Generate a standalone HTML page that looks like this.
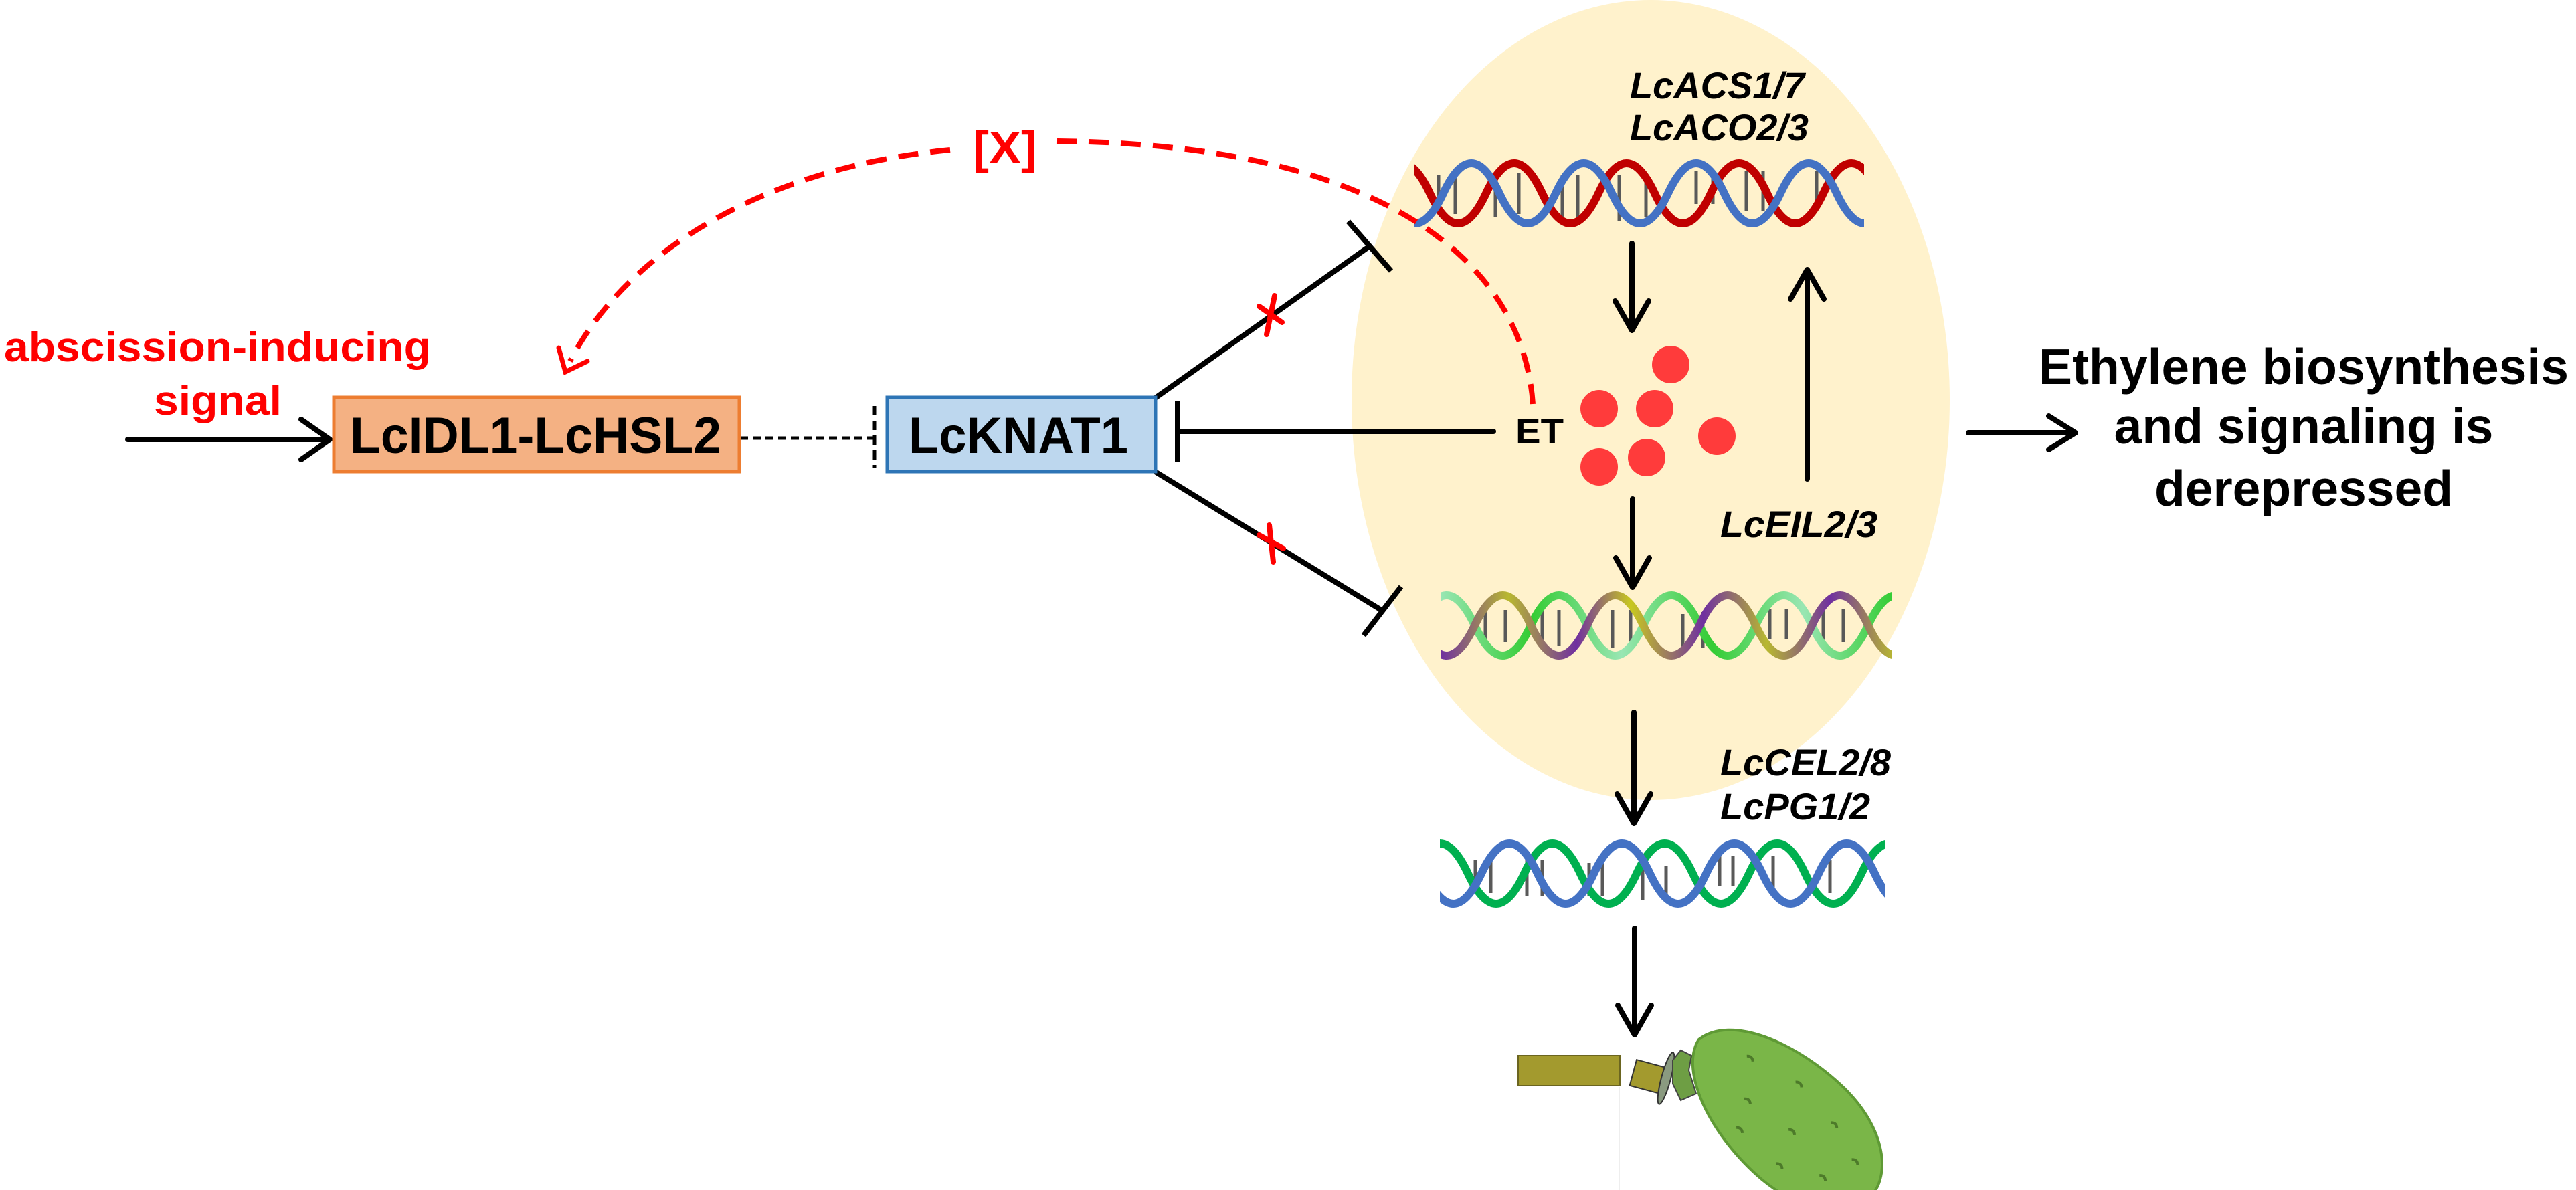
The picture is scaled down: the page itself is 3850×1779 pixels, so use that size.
<!DOCTYPE html>
<html><head><meta charset="utf-8"><style>
html,body{margin:0;padding:0;background:#fff;}
svg{display:block}
text{font-family:"Liberation Sans",Arial,sans-serif;font-weight:bold}
</style></head><body>
<svg width="3850" height="1779" viewBox="0 0 3850 1779" xmlns="http://www.w3.org/2000/svg">
<defs>
<clipPath id="c1"><rect x="2114" y="150" width="672" height="300"/></clipPath>
<clipPath id="c2"><rect x="2153" y="800" width="675" height="300"/></clipPath>
<clipPath id="c3"><rect x="2152" y="1180" width="665" height="300"/></clipPath>
<linearGradient id="g1" x1="2153" y1="0" x2="2830" y2="0" gradientUnits="userSpaceOnUse">
<stop offset="0" stop-color="#7030A0"/><stop offset="0.15" stop-color="#B8B830"/><stop offset="0.3" stop-color="#7030A0"/><stop offset="0.42" stop-color="#C8C820"/><stop offset="0.58" stop-color="#7030A0"/><stop offset="0.72" stop-color="#B8B830"/><stop offset="0.86" stop-color="#7030A0"/><stop offset="1" stop-color="#B8B830"/>
</linearGradient>
<linearGradient id="g2" x1="2153" y1="0" x2="2830" y2="0" gradientUnits="userSpaceOnUse">
<stop offset="0" stop-color="#99E6B3"/><stop offset="0.2" stop-color="#33CC33"/><stop offset="0.4" stop-color="#99E6B3"/><stop offset="0.6" stop-color="#33CC33"/><stop offset="0.8" stop-color="#99E6B3"/><stop offset="1" stop-color="#33CC33"/>
</linearGradient>
</defs>

<ellipse cx="2467" cy="598" rx="447" ry="598" fill="#FFF2CC"/>

<g clip-path="url(#c1)" fill="none" stroke-width="12">
<g stroke="#595959" stroke-width="5">
<line x1="2150" y1="262" x2="2150" y2="315"/><line x1="2175" y1="258" x2="2175" y2="320"/>
<line x1="2235" y1="262" x2="2235" y2="325"/><line x1="2270" y1="258" x2="2270" y2="320"/>
<line x1="2335" y1="262" x2="2335" y2="325"/><line x1="2358" y1="262" x2="2358" y2="325"/>
<line x1="2420" y1="262" x2="2420" y2="330"/><line x1="2460" y1="258" x2="2460" y2="325"/>
<line x1="2535" y1="255" x2="2535" y2="305"/><line x1="2560" y1="255" x2="2560" y2="305"/>
<line x1="2610" y1="255" x2="2610" y2="315"/><line x1="2635" y1="255" x2="2635" y2="315"/>
<line x1="2715" y1="255" x2="2715" y2="315"/>
</g>
<path stroke="#C00000" d="M2053,289 Q2095,199 2137,289 T2221,289 T2305,289 T2389,289 T2473,289 T2557,289 T2641,289 T2725,289 T2809,289 T2893,289"/>
<path stroke="#4472C4" d="M2073,289 Q2115,379 2157,289 T2241,289 T2325,289 T2409,289 T2493,289 T2577,289 T2661,289 T2745,289 T2829,289"/>
</g>

<g clip-path="url(#c2)" fill="none" stroke-width="12">
<g stroke="#595959" stroke-width="5">
<line x1="2220" y1="912" x2="2220" y2="960"/><line x1="2250" y1="912" x2="2250" y2="960"/>
<line x1="2305" y1="912" x2="2305" y2="965"/><line x1="2330" y1="912" x2="2330" y2="965"/>
<line x1="2410" y1="912" x2="2410" y2="968"/><line x1="2437" y1="912" x2="2437" y2="968"/>
<line x1="2515" y1="918" x2="2515" y2="968"/><line x1="2545" y1="915" x2="2545" y2="968"/>
<line x1="2645" y1="910" x2="2645" y2="955"/><line x1="2670" y1="910" x2="2670" y2="955"/>
<line x1="2725" y1="910" x2="2725" y2="960"/><line x1="2755" y1="910" x2="2755" y2="960"/>
</g>
<path stroke="url(#g2)" d="M2120,935 Q2162,845 2204,935 T2288,935 T2372,935 T2456,935 T2540,935 T2624,935 T2708,935 T2792,935 T2876,935"/>
<path stroke="url(#g1)" d="M2120,935 Q2162,1025 2204,935 T2288,935 T2372,935 T2456,935 T2540,935 T2624,935 T2708,935 T2792,935 T2876,935"/>
</g>

<g clip-path="url(#c3)" fill="none" stroke-width="12">
<g stroke="#595959" stroke-width="5">
<line x1="2205" y1="1285" x2="2205" y2="1335"/><line x1="2228" y1="1285" x2="2228" y2="1335"/>
<line x1="2282" y1="1285" x2="2282" y2="1340"/><line x1="2305" y1="1285" x2="2305" y2="1340"/>
<line x1="2375" y1="1290" x2="2375" y2="1340"/><line x1="2395" y1="1290" x2="2395" y2="1340"/>
<line x1="2455" y1="1295" x2="2455" y2="1345"/><line x1="2490" y1="1295" x2="2490" y2="1345"/>
<line x1="2570" y1="1280" x2="2570" y2="1325"/><line x1="2590" y1="1280" x2="2590" y2="1325"/>
<line x1="2650" y1="1280" x2="2650" y2="1335"/><line x1="2735" y1="1285" x2="2735" y2="1335"/>
</g>
<path stroke="#00B050" d="M2110,1306 Q2152,1216 2194,1306 T2278,1306 T2362,1306 T2446,1306 T2530,1306 T2614,1306 T2698,1306 T2782,1306 T2866,1306"/>
<path stroke="#4472C4" d="M2130,1306 Q2172,1396 2214,1306 T2298,1306 T2382,1306 T2466,1306 T2550,1306 T2634,1306 T2718,1306 T2802,1306 T2886,1306"/>
</g>

<g fill="#FF3B3B">
<circle cx="2497" cy="545" r="28"/><circle cx="2390" cy="611" r="28"/><circle cx="2473" cy="611" r="28"/>
<circle cx="2566" cy="652" r="28"/><circle cx="2390" cy="698" r="28"/><circle cx="2461" cy="684" r="28"/>
</g>

<g stroke="#000" stroke-width="8" fill="none" stroke-linecap="round" stroke-linejoin="round">
<line x1="191" y1="657" x2="490" y2="657"/><polyline points="450,627 493,657 450,687"/>
<line x1="1760" y1="645" x2="2232" y2="645"/><line x1="1760" y1="600" x2="1760" y2="690" stroke-linecap="butt"/>
<line x1="1728" y1="594" x2="2047" y2="368"/><line x1="2015" y1="331" x2="2079" y2="405" stroke-linecap="butt"/>
<line x1="1728" y1="706" x2="2066" y2="913"/><line x1="2038" y1="950" x2="2094" y2="877" stroke-linecap="butt"/>
<line x1="2439" y1="364" x2="2439" y2="492"/><polyline points="2414,450 2439,494 2464,450"/>
<line x1="2440" y1="746" x2="2440" y2="876"/><polyline points="2415,834 2440,878 2465,834"/>
<line x1="2701" y1="716" x2="2701" y2="405"/><polyline points="2676,447 2701,403 2726,447"/>
<line x1="2442" y1="1065" x2="2442" y2="1229"/><polyline points="2417,1187 2442,1231 2467,1187"/>
<line x1="2443" y1="1388" x2="2443" y2="1545"/><polyline points="2418,1503 2443,1547 2468,1503"/>
<line x1="2942" y1="647" x2="3100" y2="647"/><polyline points="3062,622 3102,647 3062,672"/>
</g>
<line x1="1106" y1="655" x2="1305" y2="655" stroke="#000" stroke-width="5" stroke-dasharray="12 7"/>
<line x1="1307" y1="607" x2="1307" y2="700" stroke="#000" stroke-width="5" stroke-dasharray="14 8"/>

<g stroke="#FF0000" stroke-width="8" stroke-linecap="round">
<line x1="1882" y1="458" x2="1916" y2="482"/><line x1="1905" y1="442" x2="1893" y2="500"/>
<line x1="1882" y1="800" x2="1918" y2="820"/><line x1="1897" y1="785" x2="1903" y2="840"/>
</g>

<g stroke="#FF0000" stroke-width="8" fill="none" stroke-dasharray="30 18">
<path d="M2291,604 C2275,380 2050,215 1580,211"/>
<path d="M1420,224 C1150,250 940,370 852,540"/>
</g>
<polyline points="835,520 845,556 878,540" stroke="#FF0000" stroke-width="7" fill="none" stroke-linecap="round"/>

<rect x="499" y="594" width="606" height="111" fill="#F4B183" stroke="#ED7D31" stroke-width="5"/>
<rect x="1326" y="594" width="401" height="111" fill="#BDD7EE" stroke="#2E75B6" stroke-width="5"/>
<text x="523" y="677" font-size="76" textLength="555" lengthAdjust="spacingAndGlyphs">LcIDL1-LcHSL2</text>
<text x="1358" y="677" font-size="76" textLength="328" lengthAdjust="spacingAndGlyphs">LcKNAT1</text>

<g fill="#FF0000">
<text x="6" y="540" font-size="62" textLength="638" lengthAdjust="spacingAndGlyphs">abscission-inducing</text>
<text x="230" y="620" font-size="62" textLength="191" lengthAdjust="spacingAndGlyphs">signal</text>
<text x="1454" y="244" font-size="68" textLength="96" lengthAdjust="spacingAndGlyphs">[X]</text>
</g>

<text x="2265" y="662" font-size="52" textLength="72" lengthAdjust="spacingAndGlyphs">ET</text>
<g font-style="italic" font-size="56">
<text x="2436" y="147" textLength="261" lengthAdjust="spacingAndGlyphs">LcACS1/7</text>
<text x="2436" y="210" textLength="267" lengthAdjust="spacingAndGlyphs">LcACO2/3</text>
<text x="2571" y="803" textLength="235" lengthAdjust="spacingAndGlyphs">LcEIL2/3</text>
<text x="2571" y="1159" textLength="255" lengthAdjust="spacingAndGlyphs">LcCEL2/8</text>
<text x="2571" y="1225" textLength="224" lengthAdjust="spacingAndGlyphs">LcPG1/2</text>
</g>
<g font-size="75" text-anchor="middle">
<text x="3443" y="574">Ethylene biosynthesis</text>
<text x="3443" y="663">and signaling is</text>
<text x="3443" y="756">derepressed</text>
</g>

<rect x="2269" y="1578" width="152" height="45" fill="#A39A2E" stroke="#6b6520" stroke-width="2"/>
<rect x="2440" y="1590" width="50" height="40" fill="#A39A2E" stroke="#333" stroke-width="2" transform="rotate(15 2465 1610)"/>
<ellipse cx="2490" cy="1612" rx="7" ry="40" fill="#8a9a80" stroke="#333" stroke-width="2" transform="rotate(15 2490 1612)"/>
<g transform="translate(2665 1668) rotate(42)">
<path d="M-170,0 C-160,-60 -60,-95 40,-92 C130,-88 178,-40 178,0 C178,45 130,88 40,92 C-60,95 -160,55 -170,0 Z" fill="#7AB648" stroke="#5f9a35" stroke-width="4"/>
<g stroke="#4d7a2a" stroke-width="4" fill="none">
<path d="M-100,-30 q6,-6 12,0"/><path d="M-60,20 q6,-6 12,0"/><path d="M-20,-50 q6,-6 12,0"/><path d="M20,10 q6,-6 12,0"/><path d="M60,-40 q6,-6 12,0"/><path d="M100,30 q6,-6 12,0"/><path d="M-40,60 q6,-6 12,0"/><path d="M40,60 q6,-6 12,0"/><path d="M120,-20 q6,-6 12,0"/>
</g>
</g>
<path d="M2500,1585 L2512,1570 L2528,1578 L2524,1600 L2535,1635 L2512,1645 L2500,1620 Z" fill="#6E9E44" stroke="#444" stroke-width="2"/>
<line x1="2420" y1="1625" x2="2420" y2="1779" stroke="#eee" stroke-width="2"/>
</svg>
</body></html>
